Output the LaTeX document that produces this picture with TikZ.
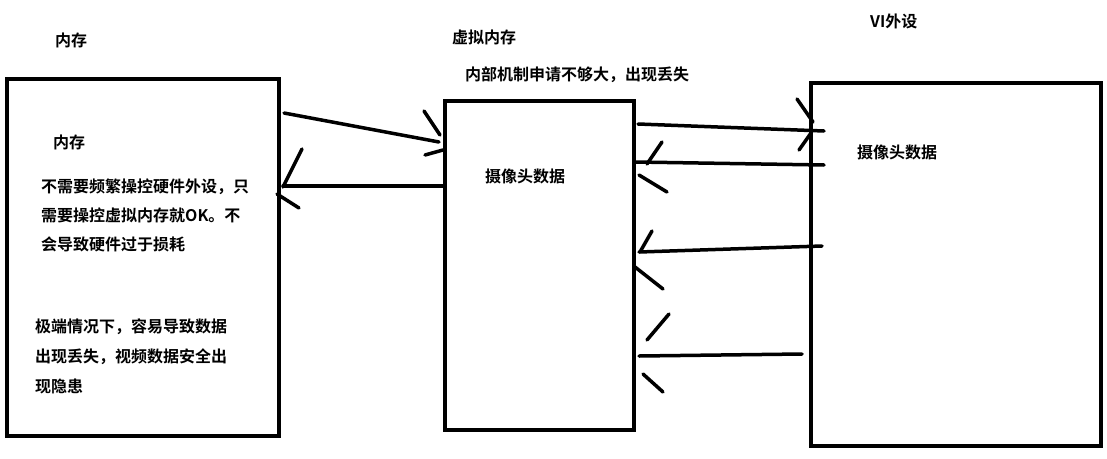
\documentclass[tikz,border=0pt]{standalone}
\usepackage{fontspec}
\newfontfamily\cjk{Noto Sans CJK SC}[BoldFont={Noto Sans CJK SC Bold}]
\begin{document}
\begin{tikzpicture}[x=1pt,y=-1pt,
  box/.style={draw=black,line width=3.5pt},
  lbl/.style={inner sep=0pt,anchor=west,font=\cjk\bfseries\fontsize{16}{28}\selectfont},
  stroke/.style={line width=3.5pt,line cap=round}]
\useasboundingbox[fill=white] (0,0) rectangle (1107,458);
% boxes
\draw[box] (7,79) rectangle (279,436);
\draw[box] (445,101) rectangle (634,430);
\draw[box] (811,83) rectangle (1101,446);
% titles
\node[lbl] (tmem) at (55,40) {内存};
\node[lbl] (tvm) at (452,37) {虚拟内存};
\node[lbl] (tnote) at (465,75) {内部机制申请不够大，出现丢失};
\node[lbl] (tvi) at (870,21) {VI外设};
% texts in boxes
\node[lbl] (mem2) at (53,142) {内存};
\node[lbl] (m1) at (41,187) {不需要频繁操控硬件外设，只};
\node[lbl] (m2) at (41,215) {需要操控虚拟内存就OK。不};
\node[lbl] (m3) at (41,244) {会导致硬件过于损耗};
\node[lbl] (m4) at (35,327) {极端情况下，容易导致数据};
\node[lbl] (m5) at (35,357) {出现丢失，视频数据安全出};
\node[lbl] (m6) at (35,386) {现隐患};
\node[lbl] (cam1) at (485,176) {摄像头数据};
\node[lbl] (cam2) at (857,152) {摄像头数据};
% hand drawn arrows
\coordinate (a1s) at (284,113); \coordinate (a1e) at (439,142);
\draw[stroke] (a1s) -- (a1e);
\draw[stroke] (424,111) -- (440,135);
\draw[stroke] (425,155) -- (443,150);
\coordinate (a2s) at (443,186); \coordinate (a2e) at (283,186);
\draw[stroke] (a2s) -- (a2e);
\draw[stroke] (302,149) -- (283,187);
\draw[stroke] (277,194) -- (299,208);
\coordinate (a3s) at (638,124); \coordinate (a3e) at (824,131);
\draw[stroke] (a3s) -- (a3e);
\draw[stroke] (797,99) -- (813,122);
\draw[stroke] (799,150) -- (811,133);
\coordinate (a4s) at (824,165); \coordinate (a4e) at (636,162);
\draw[stroke] (a4s) -- (a4e);
\draw[stroke] (662,142) -- (647,164);
\draw[stroke] (639,175) -- (667,192);
\coordinate (a5s) at (822,246); \coordinate (a5e) at (639,252);
\draw[stroke] (a5s) -- (a5e);
\draw[stroke] (652,231) -- (640,252);
\draw[stroke] (635,267) -- (663,289);
\coordinate (a6s) at (802,354); \coordinate (a6e) at (639,356);
\draw[stroke] (a6s) -- (a6e);
\draw[stroke] (669,314) -- (647,340);
\draw[stroke] (643,374) -- (663,392);
\end{tikzpicture}
\end{document}
